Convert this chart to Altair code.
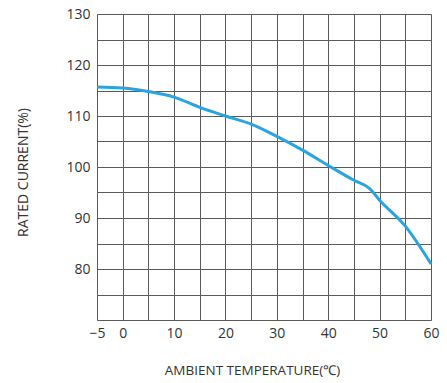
import altair as alt
import pandas as pd

# Derating curve: rated current (%) versus ambient temperature (°C)
temperature = [-5, 0, 5, 10, 15, 20, 25, 30, 35, 40, 45, 48, 50, 55, 60]
rated_current = [115.7, 115.5, 114.8, 113.7, 111.7, 110.0, 108.4, 106.0, 103.3, 100.3, 97.4, 95.8, 93.5, 88.4, 81.0]

x_grid = list(range(-5, 61, 5))
y_grid = list(range(70, 131, 5))

df = pd.DataFrame({"temp": temperature, "current": rated_current})

FONT = "Open Sans"

x_axis = alt.Axis(
    values=x_grid,
    labelExpr="datum.value % 10 === 0 || datum.value === -5 ? datum.label : ''",
    title="AMBIENT TEMPERATURE(℃)",
    titleFont=FONT,
    titleFontSize=13.5,
    titleFontWeight="normal",
    titleColor="#333333",
    titlePadding=23,
    titleX=155,
    labelFont=FONT,
    labelFontSize=14,
    labelColor="#333333",
    labelPadding=6,
    labelFlush=False,
    ticks=False,
    domain=False,
    grid=True,
    gridColor="#5a5a5a",
    gridWidth=1,
    gridOpacity=1,
)

y_axis = alt.Axis(
    values=y_grid,
    labelExpr="datum.value % 10 === 0 && datum.value >= 80 ? datum.label : ''",
    title="RATED CURRENT(%)",
    titleFont=FONT,
    titleFontSize=14,
    titleFontWeight="normal",
    titleColor="#333333",
    titlePadding=35,
    titleY=158,
    labelFont=FONT,
    labelFontSize=14,
    labelColor="#333333",
    labelPadding=7,
    labelFlush=False,
    ticks=False,
    domain=False,
    grid=True,
    gridColor="#5a5a5a",
    gridWidth=1,
    gridOpacity=1,
)

chart = (
    alt.Chart(df)
    .mark_line(color="#2aa4e0", strokeWidth=3, interpolate="monotone")
    .encode(
        x=alt.X("temp:Q", scale=alt.Scale(domain=[-5, 60], nice=False, zero=False), axis=x_axis),
        y=alt.Y("current:Q", scale=alt.Scale(domain=[70, 130], nice=False, zero=False), axis=y_axis),
    )
    .properties(
        width=334,
        height=306,
        autosize=alt.AutoSizeParams(type="none"),
        padding={"left": 97, "top": 14, "right": 16, "bottom": 63},
    )
    .configure_view(stroke="#5a5a5a", strokeWidth=1)
    .configure(background="white")
)

chart.save("out.html", embed_options={"renderer": "svg", "actions": False})
